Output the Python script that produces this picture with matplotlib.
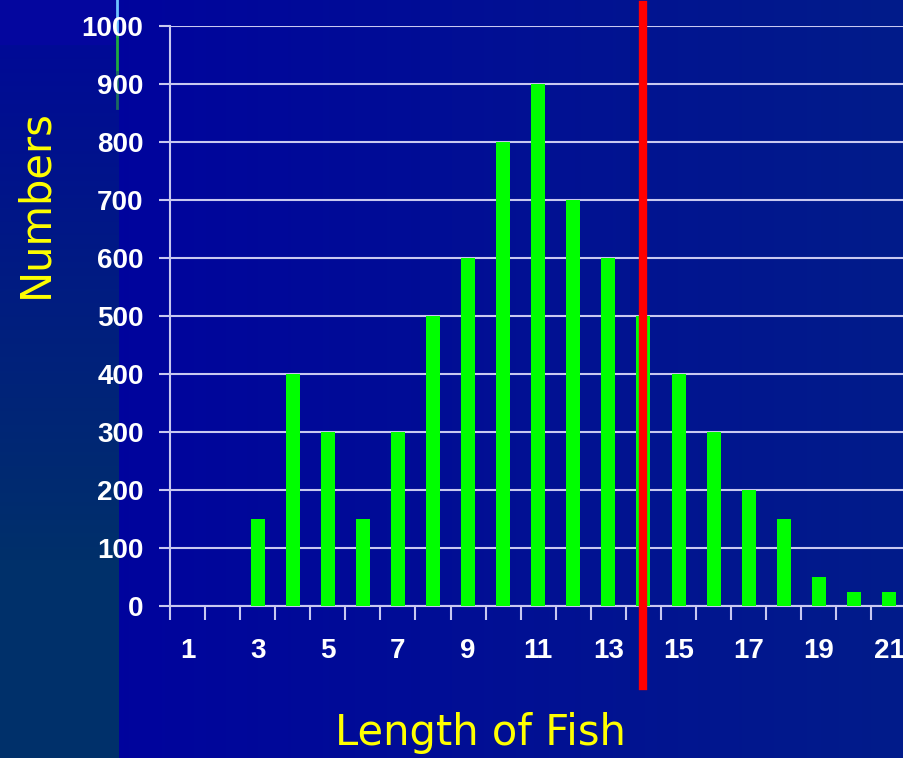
import numpy as np
import matplotlib.pyplot as plt
from matplotlib.ticker import FixedLocator, NullFormatter

# fish length classes and counts
lengths = list(range(1, 22))
counts = [0, 0, 150, 400, 300, 150, 300, 500, 600, 800, 900,
          700, 600, 500, 400, 300, 200, 150, 50, 25, 25]
cut_length = 14
tick_labels = [str(v) for v in range(1, 22, 2)]

W, H = 904, 758
fig = plt.figure(figsize=(W / 100, H / 100), dpi=100)

# ---- slide background -------------------------------------------
bg = fig.add_axes([0, 0, 1, 1], zorder=-10)
xs = np.linspace(0, 1, W)
img = np.zeros((H, W, 3))
left = np.array([0, 0, 160]) / 255
right = np.array([2, 28, 138]) / 255
for c in range(3):
    img[:, :, c] = left[c] + (right[c] - left[c]) * xs[None, :]
strip = 119
top_col = np.array([0, 10, 150]) / 255
bot_col = np.array([0, 48, 106]) / 255
ys = np.clip((np.arange(H) - 45) / (560 - 45), 0, 1)
for c in range(3):
    img[45:, :strip, c] = (top_col[c] + (bot_col[c] - top_col[c]) * ys[45:])[:, None]
img[:45, :strip] = np.array([4, 6, 158]) / 255
bg.imshow(img, aspect="auto", extent=[0, 1, 0, 1])
# thin decorative line at top left
for i, col in enumerate(["#6fc3ff", "#1faa40", "#1c6a60"]):
    bg.plot([117 / W, 117 / W], [1 - i * 36 / H, 1 - (i + 1) * 36 / H],
            color=col, lw=2)
bg.set_xlim(0, 1)
bg.set_ylim(0, 1)
bg.axis("off")

# ---- chart -------------------------------------------------------
ax = fig.add_axes([170 / W, 1 - 606 / H, 740 / W, 580 / H])
ax.patch.set_alpha(0)

ax.bar(lengths, counts, width=0.4, color="#00ff00", zorder=3)

ax.set_xlim(0.5, 21.6)
ax.set_ylim(0, 1000)
ax.set_yticks(range(0, 1001, 100))
ax.yaxis.grid(True, color="#c8c8f0", lw=1.5, zorder=1)

ax.xaxis.set_major_locator(FixedLocator(np.arange(0.5, 22, 1)))
ax.xaxis.set_major_formatter(NullFormatter())
ax.xaxis.set_minor_locator(FixedLocator(range(1, 22, 2)))
ax.set_xticklabels(tick_labels, minor=True)
ax.tick_params(axis="x", which="major", length=10, width=1.5,
               color="#c8c8f0", direction="out")
ax.tick_params(axis="x", which="minor", length=0, pad=23)
ax.tick_params(axis="y", length=8, width=1.5, color="#c8c8f0", pad=11)

font = dict(family=["Liberation Sans", "DejaVu Sans"],
            weight="bold", size=20)
for lab in ax.get_xticklabels(minor=True) + ax.get_yticklabels():
    lab.set_fontproperties(font)
    lab.set_color("white")

for side in ["top", "right"]:
    ax.spines[side].set_visible(False)
for side in ["left", "bottom"]:
    ax.spines[side].set_color("#c8c8f0")
    ax.spines[side].set_linewidth(1.5)

# cut-off line
ax.axvline(cut_length, ymin=-0.138, ymax=1.036, color="#ff0000",
           lw=6, clip_on=False, zorder=5)

fig.text(35 / W, 1 - 204 / H, "Numbers", color="#ffff00", fontsize=30,
         rotation=90, ha="center", va="center")
fig.text(480 / W, 1 - 733 / H, "Length of Fish", color="#ffff00",
         fontsize=30, ha="center", va="center")

fig.savefig("out.png", dpi=100)
